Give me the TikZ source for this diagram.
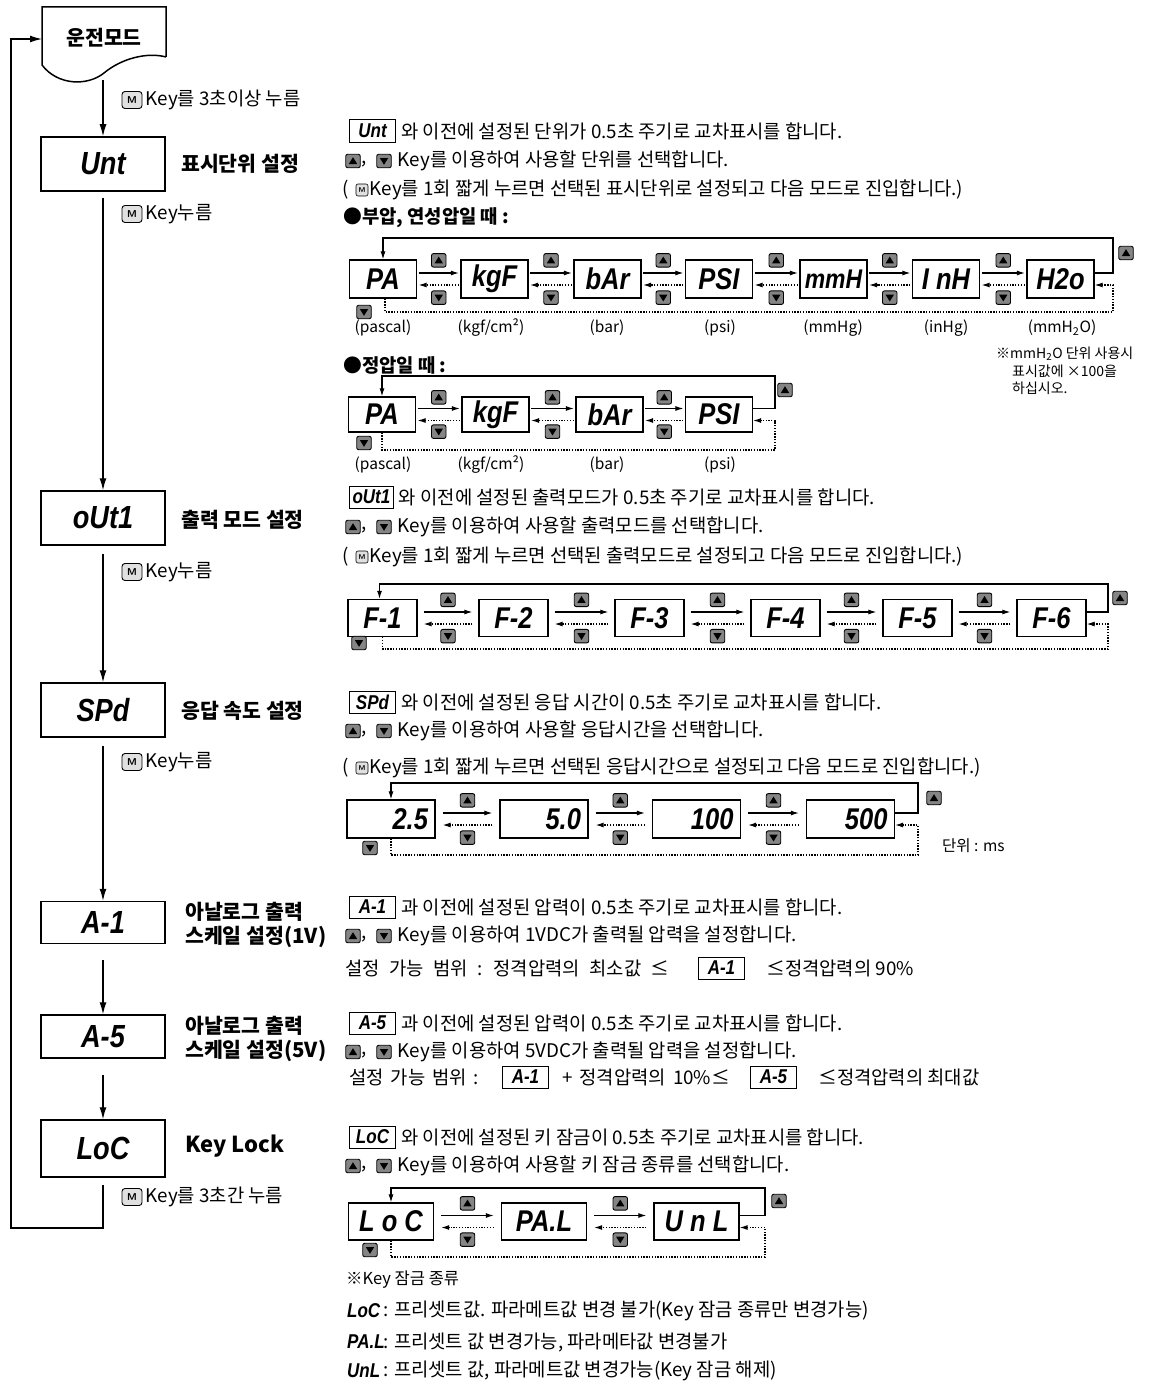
\documentclass[tikz,border=0pt]{standalone}
\usepackage{fontspec}
\setmainfont{Noto Sans CJK KR}
\newfontfamily\segf{Liberation Sans}[FakeStretch=0.85]
\usetikzlibrary{arrows.meta,calc}
\definecolor{btngray}{gray}{0.52}
\definecolor{keyfill}{gray}{0.88}
\newcommand\bodyfs{\fontsize{18.8}{22}\selectfont}
\newcommand\headfs{\fontsize{20.5}{24}\selectfont\bfseries}
\newcommand\lblfs{\fontsize{15.5}{18}\selectfont}
\newcommand\notefs{\fontsize{14}{17}\selectfont}
\newcommand\segbig{\segf\fontsize{32}{34}\selectfont\bfseries\itshape}
\newcommand\segmid{\segf\fontsize{30}{32}\selectfont\bfseries\itshape}
\newcommand\segsml{\segf\fontsize{20}{22}\selectfont\bfseries\itshape}
\tikzset{
 mainbox/.style={draw, line width=1.5pt, minimum width=124pt, minimum height=54pt, inner sep=0pt, font=\segbig},
 dbox/.style={draw, line width=1.3pt, minimum width=67pt, minimum height=37pt, inner sep=0pt, font=\segmid},
 ibox/.style={draw, line width=1pt, minimum width=46pt, minimum height=22pt, inner xsep=3pt, inner ysep=0pt, anchor=west, font=\segsml},
 body/.style={inner sep=0pt, anchor=west, font=\bodyfs},
 head/.style={inner sep=0pt, anchor=west, font=\headfs},
 lbl/.style={inner sep=0pt, font=\lblfs},
 note/.style={inner sep=0pt, anchor=west, font=\notefs},
 btn/.style={draw, line width=0.9pt, rounded corners=2pt, fill=btngray, minimum width=14.5pt, minimum height=13.5pt, inner sep=0pt},
 upbtn/.style={btn, path picture={\fill[black, sharp corners] ($(path picture bounding box.center)+(-4.2pt,-3pt)$) -- ++(8.4pt,0pt) -- ++(-4.2pt,6.8pt) -- cycle;}},
 dnbtn/.style={btn, path picture={\fill[black, sharp corners] ($(path picture bounding box.center)+(-4.2pt,3pt)$) -- ++(8.4pt,0pt) -- ++(-4.2pt,-6.8pt) -- cycle;}},
 mkey/.style={draw, line width=0.9pt, rounded corners=3pt, fill=keyfill, minimum width=20pt, minimum height=17pt, inner sep=0pt, font=\sffamily\bfseries\fontsize{10}{10}\selectfont},
 mkeys/.style={draw, line width=0.6pt, rounded corners=2pt, fill=keyfill, minimum width=12pt, minimum height=12pt, inner sep=0pt, font=\sffamily\bfseries\fontsize{7}{7}\selectfont},
 flow/.style={line width=1.2pt, -{Latex[length=12pt,width=7pt]}},
 fwd/.style={line width=1.1pt, -{Latex[length=8pt,width=5pt]}},
 bwd/.style={line width=1.1pt, dash pattern=on 1.3pt off 1.5pt, -{Latex[length=8pt,width=5pt]}},
}
\newcommand\updnline[3]{%
 \node[upbtn] (#1up) at (353,#2) {};
 \node[body] (#1cm) at ([xshift=1pt,yshift=-3pt]#1up.east) {,};
 \node[dnbtn] (#1dn) at (384,#2) {};
 \node[body] (#1tx) at ([xshift=6pt]#1dn.east) {#3};}
\newcommand\mline[3]{%
 \node[body] (#1pa) at (342,#2) {(};
 \node[mkeys] (#1mk) at (362,#2) {M};
 \node[body] (#1tx) at ([xshift=1pt]#1mk.east) {#3};}
\newcommand\pairlink[4]{%
 \draw[fwd, shorten <=#3, shorten >=#3] ([yshift=6pt]#1.east) -- ([yshift=6pt]#2.west);
 \draw[bwd, shorten <=#3, shorten >=#3] ([yshift=-6pt]#2.west) -- ([yshift=-6pt]#1.east);
 \node[upbtn] (#4u) at ($(#1.north east)!0.5!(#2.north west)+(0,1)$) {};
 \node[dnbtn] (#4d) at ($(#1.south east)!0.5!(#2.south west)+(0,-1)$) {};}
\begin{document}
\begin{tikzpicture}[x=1pt,y=-1pt]
\useasboundingbox (0,0) rectangle (1153,1386);
% ---------------- left column ----------------
\draw[line width=1.5pt] (166,57) -- (166,7) -- (42,7) -- (42,65) .. controls (58,86) and (88,86) .. (104,73) .. controls (122,58) and (148,52) .. (166,57);
\node[inner sep=0pt, font=\headfs] (run) at (104,38) {운전모드};
\coordinate (runbot) at (103,80);
\coordinate (runw) at (42,39);
\coordinate (lb) at (11,1228);
\node[mainbox] (unt) at (103,164) {Unt};
\node[mainbox] (out) at (103,518) {oUt1};
\node[mainbox] (spd) at (103,710) {SPd};
\node[mainbox, minimum height=42pt] (a1m) at (103,922.5) {A-1};
\node[mainbox, minimum height=43pt] (a5m) at (103,1036.5) {A-5};
\node[mainbox, minimum height=57pt] (locm) at (103,1148.5) {LoC};
\draw[flow] (runbot) -- (unt.north);
\draw[flow] ([yshift=-6pt]unt.south) -- (out.north);
\draw[flow] ([yshift=-8pt]out.south) -- (spd.north);
\draw[flow] ([yshift=-8pt]spd.south) -- (a1m.north);
\draw[flow] ([yshift=-16pt]a1m.south) -- (a5m.north);
\draw[flow] ([yshift=-16pt]a5m.south) -- (locm.north);
\draw[flow] ([yshift=-7pt]locm.south) |- (lb) |- (runw);
\node[head] (untl) at (181,164) {표시단위 설정};
\node[head] (outl) at (181,520) {출력 모드 설정};
\node[head] (spdl) at (181,711) {응답 속도 설정};
\node[head, align=left] (a1l) at (185,925) {아날로그 출력\\스케일 설정(1V)};
\node[head, align=left] (a5l) at (185,1039) {아날로그 출력\\스케일 설정(5V)};
\node[head, font=\fontsize{22}{24}\selectfont\bfseries] (locl) at (185,1146) {Key Lock};
\node[mkey] (mk1) at (132,100) {M};
\node[body] (mk1t) at ([xshift=3pt]mk1.east) {Key를 3초이상 누름};
\node[mkey] (mk2) at (132,214) {M};
\node[body] (mk2t) at ([xshift=3pt]mk2.east) {Key누름};
\node[mkey] (mk3) at (132,572) {M};
\node[body] (mk3t) at ([xshift=3pt]mk3.east) {Key누름};
\node[mkey] (mk4) at (132,762) {M};
\node[body] (mk4t) at ([xshift=3pt]mk4.east) {Key누름};
\node[mkey] (mk5) at (132,1197) {M};
\node[body] (mk5t) at ([xshift=3pt]mk5.east) {Key를 3초간 누름};
% ---------------- Unt ----------------
\node[ibox] (uib) at (349,131) {Unt};
\node[body] (ut1) at ([xshift=5pt]uib.east) {와 이전에 설정된 단위가 0.5초 주기로 교차표시를 합니다.};
\updnline{ul}{161}{Key를 이용하여 사용할 단위를 선택합니다.}
\mline{um}{190}{Key를 1회 짧게 누르면 선택된 표시단위로 설정되고 다음 모드로 진입합니다.)}
\node[body, font=\bodyfs\bfseries] (ut4) at (343,218) {●부압, 연성압일 때 :};
% row 1
\node[dbox, minimum height=38pt] (a1) at (383,279) {PA};
\node[dbox, minimum height=38pt] (a2) at (494.5,279) {kgF};
\node[dbox, minimum height=38pt] (a3) at (607.5,279) {bAr};
\node[dbox, minimum height=38pt] (a4) at (719,279) {PSI};
\node[dbox, minimum height=38pt, font=\segf\fontsize{27}{30}\selectfont\bfseries\itshape] (a5) at (833.5,279) {mmH};
\node[dbox, minimum height=38pt] (a6) at (946,279) {I nH};
\node[dbox, minimum height=38pt] (a7) at (1060.5,279) {H2o};
\pairlink{a1}{a2}{1.5pt}{p12}
\pairlink{a2}{a3}{1.5pt}{p23}
\pairlink{a3}{a4}{1.5pt}{p34}
\pairlink{a4}{a5}{1.5pt}{p45}
\pairlink{a5}{a6}{1.5pt}{p56}
\pairlink{a6}{a7}{1.5pt}{p67}
\coordinate (r1t) at (1113,238);
\coordinate (r1b) at (1113,312);
\draw[fwd] ([yshift=6pt]a7.east) -| (r1t) -| (a1.north);
\draw[bwd] ([xshift=2pt]a1.south) |- (r1b) |- ([yshift=-6pt]a7.east);
\node[upbtn] (r1u) at (1126,253) {};
\node[dnbtn] (r1d) at (364,312) {};
\node[lbl] (a1t) at (383,328) {(pascal)};
\node[lbl] (a2t) at (491,328) {(kgf/cm²)};
\node[lbl] (a3t) at (607,328) {(bar)};
\node[lbl] (a4t) at (720,328) {(psi)};
\node[lbl] (a5t) at (833,328) {(mmHg)};
\node[lbl] (a6t) at (946,328) {(inHg)};
\node[lbl] (a7t) at (1062,328) {(mmH\textsubscript{2}O)};
\node[note] (n1) at (996,354) {※mmH\textsubscript{2}O 단위 사용시};
\node[note] (n2) at (1012,371) {표시값에 ×100을};
\node[note] (n3) at (1012,388) {하십시오.};
% row 2
\node[body, font=\bodyfs\bfseries] (ut5) at (343,365) {●정압일 때 :};
\node[dbox, minimum height=35pt] (b1) at (382,414.5) {PA};
\node[dbox, minimum height=35pt] (b2) at (495.5,414.5) {kgF};
\node[dbox, minimum height=35pt] (b3) at (609.5,414.5) {bAr};
\node[dbox, minimum height=35pt] (b4) at (719,414.5) {PSI};
\pairlink{b1}{b2}{1.5pt}{q12}
\pairlink{b2}{b3}{1.5pt}{q23}
\pairlink{b3}{b4}{1.5pt}{q34}
\coordinate (r2t) at (775,376);
\coordinate (r2b) at (775,450);
\draw[fwd] ([yshift=6pt]b4.east) -| (r2t) -| (b1.north);
\draw[bwd] (b1.south) |- (r2b) |- ([yshift=-6pt]b4.east);
\node[upbtn] (r2u) at (785,390) {};
\node[dnbtn] (r2d) at (364,443) {};
\node[lbl] (b1t) at (383,465) {(pascal)};
\node[lbl] (b2t) at (491,465) {(kgf/cm²)};
\node[lbl] (b3t) at (607,465) {(bar)};
\node[lbl] (b4t) at (720,465) {(psi)};
% ---------------- oUt1 ----------------
\node[ibox, minimum width=36pt] (oib) at (349,497) {oUt1};
\node[body] (ot1) at ([xshift=5pt]oib.east) {와 이전에 설정된 출력모드가 0.5초 주기로 교차표시를 합니다.};
\updnline{ol}{527}{Key를 이용하여 사용할 출력모드를 선택합니다.}
\mline{om}{557}{Key를 1회 짧게 누르면 선택된 출력모드로 설정되고 다음 모드로 진입합니다.)}
\node[dbox, minimum width=69pt, minimum height=37pt] (f1) at (382.5,618) {F-1};
\node[dbox, minimum width=69pt, minimum height=37pt] (f2) at (513.5,618) {F-2};
\node[dbox, minimum width=69pt, minimum height=37pt] (f3) at (649.5,618) {F-3};
\node[dbox, minimum width=69pt, minimum height=37pt] (f4) at (785.5,618) {F-4};
\node[dbox, minimum width=69pt, minimum height=37pt] (f5) at (917.5,618) {F-5};
\node[dbox, minimum width=69pt, minimum height=37pt] (f6) at (1051.5,618) {F-6};
\pairlink{f1}{f2}{6pt}{g12}
\pairlink{f2}{f3}{6pt}{g23}
\pairlink{f3}{f4}{6pt}{g34}
\pairlink{f4}{f5}{6pt}{g45}
\pairlink{f5}{f6}{6pt}{g56}
\coordinate (r3t) at (1108,584);
\coordinate (r3b) at (1108,649);
\draw[fwd] ([yshift=6pt]f6.east) -| (r3t) -| ([xshift=-3pt]f1.north);
\draw[bwd] (f1.south) |- (r3b) |- ([yshift=-6pt]f6.east);
\node[upbtn] (r3u) at (1120,598) {};
\node[dnbtn] (r3d) at (359,643) {};
% ---------------- SPd ----------------
\node[ibox] (sib) at (349,702) {SPd};
\node[body] (st1) at ([xshift=5pt]sib.east) {와 이전에 설정된 응답 시간이 0.5초 주기로 교차표시를 합니다.};
\updnline{sl}{731}{Key를 이용하여 사용할 응답시간을 선택합니다.}
\mline{sm}{768}{Key를 1회 짧게 누르면 선택된 응답시간으로 설정되고 다음 모드로 진입합니다.)}
\node[dbox, minimum width=88pt, minimum height=38pt] (s1) at (391,819) {\makebox[74pt][r]{2.5}};
\node[dbox, minimum width=88pt, minimum height=38pt] (s2) at (544,819) {\makebox[74pt][r]{5.0}};
\node[dbox, minimum width=88pt, minimum height=38pt] (s3) at (696.5,819) {\makebox[74pt][r]{100}};
\node[dbox, minimum width=88pt, minimum height=38pt] (s4) at (850.5,819) {\makebox[74pt][r]{500}};
\pairlink{s1}{s2}{7pt}{t12}
\pairlink{s2}{s3}{7pt}{t23}
\pairlink{s3}{s4}{7pt}{t34}
\coordinate (r4t) at (918,783);
\coordinate (r4b) at (918,855);
\draw[fwd] ([yshift=6pt]s4.east) -| (r4t) -| (s1.north);
\draw[bwd] (s1.south) |- (r4b) |- ([yshift=-6pt]s4.east);
\node[upbtn] (r4u) at (934,798) {};
\node[dnbtn] (r4d) at (370,848) {};
\node[body, font=\fontsize{15.5}{18}\selectfont] (unitms) at (942,846) {단위 : ms};
% ---------------- A-1 ----------------
\node[ibox] (aib) at (349,907) {A-1};
\node[body] (at1) at ([xshift=5pt]aib.east) {과 이전에 설정된 압력이 0.5초 주기로 교차표시를 합니다.};
\updnline{al}{936}{Key를 이용하여 1VDC가 출력될 압력을 설정합니다.}
\node[body] (at3) at (345,968) {\spaceskip=9.5pt 설정 가능 범위 : 정격압력의 최소값 ≤};
\node[ibox] (aib2) at (698,968) {A-1};
\node[body] (at4) at (766,968) {≤정격압력의 90\%};
% ---------------- A-5 ----------------
\node[ibox] (bib) at (349,1023) {A-5};
\node[body] (bt1) at ([xshift=5pt]bib.east) {과 이전에 설정된 압력이 0.5초 주기로 교차표시를 합니다.};
\updnline{bl}{1052}{Key를 이용하여 5VDC가 출력될 압력을 설정합니다.}
\node[body] (bt3) at (349,1077) {\spaceskip=7pt 설정 가능 범위 :};
\node[ibox] (bib2) at (502,1077) {A-1};
\node[body] (bt4) at (562,1077) {\spaceskip=7pt + 정격압력의 10\%≤};
\node[ibox] (bib3) at (750,1077) {A-5};
\node[body] (bt5) at (818,1077) {≤정격압력의 최대값};
% ---------------- LoC ----------------
\node[ibox] (lib) at (349,1137) {LoC};
\node[body] (lt1) at ([xshift=5pt]lib.east) {와 이전에 설정된 키 잠금이 0.5초 주기로 교차표시를 합니다.};
\updnline{ll}{1166}{Key를 이용하여 사용할 키 잠금 종류를 선택합니다.}
\node[dbox, minimum width=85pt, minimum height=37pt] (l1) at (391,1221.5) {L o C};
\node[dbox, minimum width=85pt, minimum height=37pt] (l2) at (544,1221.5) {PA.L};
\node[dbox, minimum width=85pt, minimum height=37pt] (l3) at (696.5,1221.5) {U n L};
\pairlink{l1}{l2}{7pt}{k12}
\pairlink{l2}{l3}{7pt}{k23}
\coordinate (r5t) at (765,1188);
\coordinate (r5b) at (765,1257);
\draw[fwd] ([yshift=6pt]l3.east) -| (r5t) -| (l1.north);
\draw[bwd] (l1.south) |- (r5b) |- ([yshift=-6pt]l3.east);
\node[upbtn] (r5u) at (779,1201) {};
\node[dnbtn] (r5d) at (370,1250) {};
\node[body, font=\fontsize{16.5}{19}\selectfont] (kn) at (346,1280) {※Key 잠금 종류};
\node[inner sep=0pt, anchor=west, font=\segsml] (kn1s) at (347,1311) {LoC};
\node[body] (kn1) at (383,1311) {: 프리셋트값. 파라메트값 변경 불가(Key 잠금 종류만 변경가능)};
\node[inner sep=0pt, anchor=west, font=\segsml] (kn2s) at (347,1342) {PA.L};
\node[body] (kn2) at (383,1342) {: 프리셋트 값 변경가능, 파라메타값 변경불가};
\node[inner sep=0pt, anchor=west, font=\segsml] (kn3s) at (347,1371) {UnL};
\node[body] (kn3) at (383,1371) {: 프리셋트 값, 파라메트값 변경가능(Key 잠금 해제)};
\end{tikzpicture}
\end{document}
